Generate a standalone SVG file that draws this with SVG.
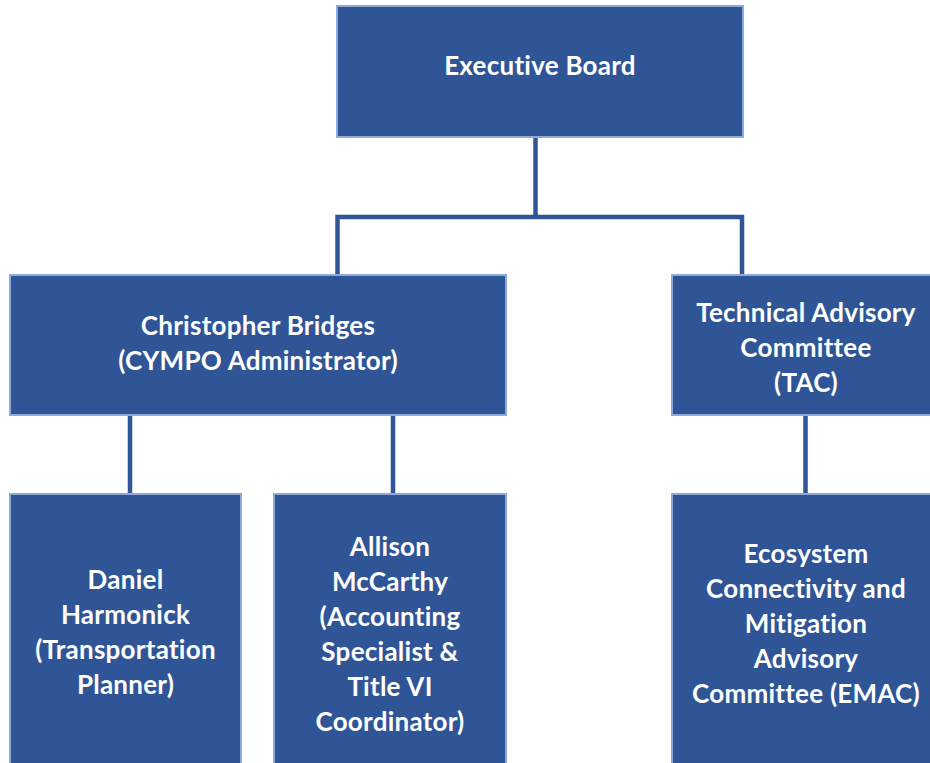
<svg xmlns="http://www.w3.org/2000/svg" width="930" height="763" viewBox="0 0 930 763">
<style>
.box{fill:#2F5597;stroke:#8EA9DB;stroke-width:2}
.t{font-family:Lato,"Liberation Sans",sans-serif;font-weight:700;font-size:26px;letter-spacing:0.25px;fill:#FFFFFF;text-anchor:middle}
.c{stroke:#2F5597;stroke-width:4.5;fill:none}
</style>
<rect width="930" height="763" fill="#FFFFFF"/>
<g id="connectors">
<line class="c" x1="535.5" y1="137" x2="535.5" y2="217"/>
<polyline class="c" points="337.5,275 337.5,217 742,217 742,275"/>
<line class="c" x1="130" y1="415" x2="130" y2="494"/>
<line class="c" x1="393" y1="415" x2="393" y2="494"/>
<line class="c" x1="805.5" y1="415" x2="805.5" y2="494"/>
</g>
<g id="executive-board">
<rect class="box" x="337" y="6" width="406" height="131"/>
<text class="t" x="540" y="75">Executive Board</text>
</g>
<g id="christopher-bridges">
<rect class="box" x="10" y="275" width="496" height="140"/>
<text class="t" x="258" y="335">Christopher Bridges</text>
<text class="t" x="258" y="370">(CYMPO Administrator)</text>
</g>
<g id="tac">
<rect class="box" x="672" y="275" width="270" height="140"/>
<text class="t" x="806" y="322">Technical Advisory</text>
<text class="t" x="806" y="357">Committee</text>
<text class="t" x="806" y="392">(TAC)</text>
</g>
<g id="daniel-harmonick">
<rect class="box" x="10" y="494" width="231" height="280"/>
<text class="t" x="125.5" y="589">Daniel</text>
<text class="t" x="125.5" y="624">Harmonick</text>
<text class="t" x="125.5" y="659">(Transportation</text>
<text class="t" x="125.5" y="694">Planner)</text>
</g>
<g id="allison-mccarthy">
<rect class="box" x="274" y="494" width="232" height="280"/>
<text class="t" x="390" y="556">Allison</text>
<text class="t" x="390" y="591">McCarthy</text>
<text class="t" x="390" y="626">(Accounting</text>
<text class="t" x="390" y="661">Specialist &amp;</text>
<text class="t" x="390" y="696">Title VI</text>
<text class="t" x="390" y="731">Coordinator)</text>
</g>
<g id="emac">
<rect class="box" x="672" y="494" width="270" height="280"/>
<text class="t" x="806" y="563">Ecosystem</text>
<text class="t" x="806" y="598">Connectivity and</text>
<text class="t" x="806" y="633">Mitigation</text>
<text class="t" x="806" y="668">Advisory</text>
<text class="t" x="806" y="703">Committee (EMAC)</text>
</g>
</svg>
